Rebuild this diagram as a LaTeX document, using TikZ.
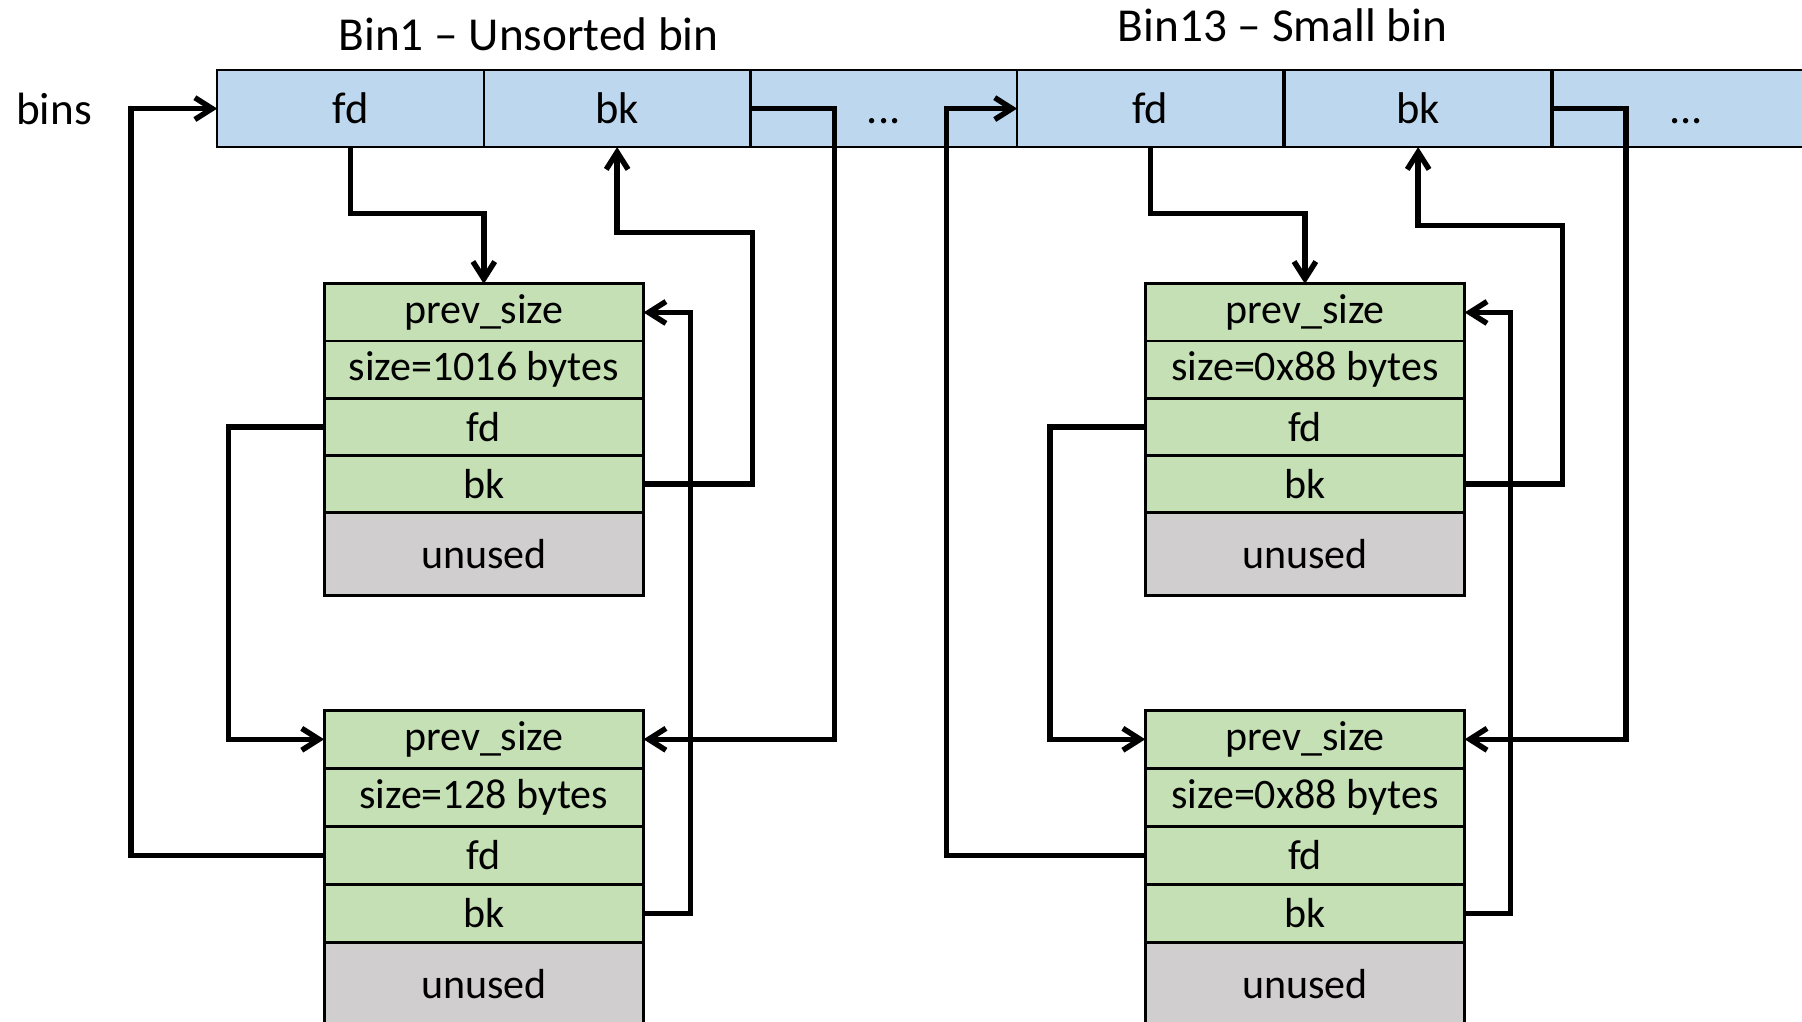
\documentclass[tikz,border=0pt]{standalone}
\usepackage{fontspec}
\setmainfont{Carlito}
\usepackage{xcolor}
\usetikzlibrary{arrows.meta}
\definecolor{BarBlue}{HTML}{BDD7EE}
\definecolor{ChunkGreen}{HTML}{C5E0B4}
\definecolor{UnusedGray}{HTML}{D0CECE}
\tikzset{
  barcell/.style={draw, line width=0.6pt, fill=BarBlue, minimum width=23.2mm, minimum height=6.7mm, inner sep=0pt, outer sep=0pt, font=\fontsize{11}{13}\selectfont},
  chunkrow/.style={draw, line width=0.7pt, fill=ChunkGreen, minimum width=27.8mm, minimum height=5mm, inner sep=0pt, outer sep=0pt, font=\fontsize{10.4}{12}\selectfont},
  unusedrow/.style={chunkrow, fill=UnusedGray, minimum height=7.2mm},
  link/.style={line width=1.35pt, -{Straight Barb[length=1.5mm, width=1.9mm, line width=1.35pt]}},
}
\begin{document}
\begin{tikzpicture}[x=0.1mm, y=-0.1mm]%
\useasboundingbox (0,0) rectangle (1568,889);%
% labels
\node[font=\fontsize{11.7}{14}\selectfont] (titleA) at (460,30) {Bin1 -- Unsorted bin};%
\node[font=\fontsize{11.7}{14}\selectfont] (titleB) at (1116,22) {Bin13 -- Small bin};%
\node[font=\fontsize{11.2}{13}\selectfont] (bins) at (47,95) {bins};%
% bins array
\node[barcell] (fdA) at (305,94.5) {fd};%
\node[barcell] (bkA) at (537,94.5) {bk};%
\node[barcell] (dotsA) at (769,94.5) {\vphantom{bk}...};%
\node[barcell] (fdB) at (1001,94.5) {fd};%
\node[barcell] (bkB) at (1234,94.5) {bk};%
\node[barcell] (dotsB) at (1467,94.5) {\vphantom{bk}...};%
% chunks of bin1
\node[chunkrow, minimum height=4.975mm] (prevA1) at (421,271.9) {prev\_size};%
\node[chunkrow, minimum height=4.975mm] (sizeA1) at (421,321.6) {size=1016 bytes};%
\node[chunkrow, minimum height=4.975mm] (fdA1) at (421,371.4) {fd};%
\node[chunkrow, minimum height=4.975mm] (bkA1) at (421,421.1) {bk};%
\node[unusedrow] (unA1) at (421,482) {unused};%
\node[chunkrow, minimum height=5.05mm] (prevA2) at (421,643.3) {prev\_size};%
\node[chunkrow, minimum height=5.05mm] (sizeA2) at (421,693.8) {size=128 bytes};%
\node[chunkrow, minimum height=5.05mm] (fdA2) at (421,744.3) {fd};%
\node[chunkrow, minimum height=5.05mm] (bkA2) at (421,794.8) {bk};%
\node[unusedrow] (unA2) at (421,856) {unused};%
% chunks of bin13
\node[chunkrow, minimum height=4.975mm] (prevB1) at (1135.5,271.9) {prev\_size};%
\node[chunkrow, minimum height=4.975mm] (sizeB1) at (1135.5,321.6) {size=0x88 bytes};%
\node[chunkrow, minimum height=4.975mm] (fdB1) at (1135.5,371.4) {fd};%
\node[chunkrow, minimum height=4.975mm] (bkB1) at (1135.5,421.1) {bk};%
\node[unusedrow] (unB1) at (1135.5,482) {unused};%
\node[chunkrow, minimum height=5.05mm] (prevB2) at (1135.5,643.3) {prev\_size};%
\node[chunkrow, minimum height=5.05mm] (sizeB2) at (1135.5,693.8) {size=0x88 bytes};%
\node[chunkrow, minimum height=5.05mm] (fdB2) at (1135.5,744.3) {fd};%
\node[chunkrow, minimum height=5.05mm] (bkB2) at (1135.5,794.8) {bk};%
\node[unusedrow] (unB2) at (1135.5,856) {unused};%
% links of bin1
\draw[link] (fdA.south) -- ++(0,58) -| (prevA1.north);%
\draw[link] (bkA1.east) -| ++(95,-218.6) -| (bkA.south);%
\draw[link] (bkA.east) -- ++(73,0) |- (prevA2.east);%
\draw[link] (bkA2.east) -- ++(41,0) |- (prevA1.east);%
\draw[link] (fdA1.west) -- ++(-83,0) |- (prevA2.west);%
\draw[link] (fdA2.west) -- ++(-168,0) |- (fdA.west);%
% links of bin13
\draw[link] (fdB.south) -- ++(0,58) -| (prevB1.north);%
\draw[link] (bkB1.east) -| ++(85,-225) -| (bkB.south);%
\draw[link] (bkB.east) -- ++(65,0) |- (prevB2.east);%
\draw[link] (bkB2.east) -- ++(40,0) |- (prevB1.east);%
\draw[link] (fdB1.west) -- ++(-83,0) |- (prevB2.west);%
\draw[link] (fdB2.west) -- ++(-173,0) |- (fdB.west);%
\end{tikzpicture}
\end{document}
